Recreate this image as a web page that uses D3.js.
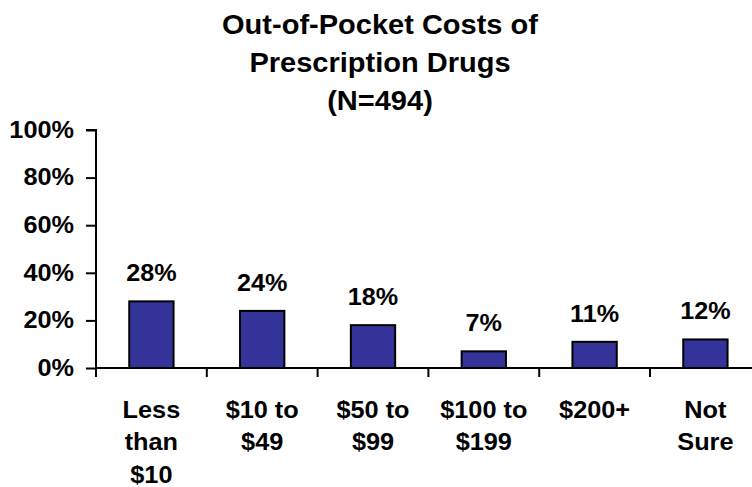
<!DOCTYPE html>
<html>
<head>
<meta charset="utf-8">
<script src="https://cdn.jsdelivr.net/npm/d3@7"></script>
<style>
  html, body { margin: 0; padding: 0; background: #fff; }
  svg text { font-family: "Liberation Sans", Arial, Helvetica, sans-serif; font-weight: bold; fill: #000; }
</style>
</head>
<body>
<svg id="chart" width="752" height="487"></svg>
<script>
// Out-of-pocket prescription drug cost brackets and share of respondents
const titleLines = ["Out-of-Pocket Costs of", "Prescription Drugs", "(N=494)"];
const categories = [
  ["Less", "than", "$10"],
  ["$10 to", "$49"],
  ["$50 to", "$99"],
  ["$100 to", "$199"],
  ["$200+"],
  ["Not", "Sure"]
];
const values = [28, 24, 18, 7, 11, 12];
const yTicks = [0, 20, 40, 60, 80, 100];

const svg = d3.select("#chart");
const margin = { left: 96, top: 130, bottom: 368 };
const bandW = 110.8;

// Widen glyphs horizontally about an anchor x (the lettering is set wide)
const widen = (ax, s) => `translate(${ax},0) scale(${s},1) translate(${-ax},0)`;

const x = d3.scaleBand()
  .domain(d3.range(categories.length))
  .range([margin.left, margin.left + bandW * categories.length])
  .paddingInner(0.6)
  .paddingOuter(0.3);

const y = d3.scaleLinear().domain([0, 100]).range([margin.bottom, margin.top]);

// Title
svg.append("g")
  .attr("transform", widen(380, 1.075))
  .selectAll("text")
  .data(titleLines)
  .join("text")
  .attr("x", 380)
  .attr("y", (d, i) => 34.5 + i * 38)
  .attr("text-anchor", "middle")
  .style("font-size", "27px")
  .text(d => d);

// Bars
svg.append("g").selectAll("rect")
  .data(values)
  .join("rect")
  .attr("x", (d, i) => x(i))
  .attr("width", x.bandwidth())
  .attr("y", d => y(d))
  .attr("height", d => y(0) - y(d))
  .attr("fill", "#333399")
  .attr("stroke", "#000")
  .attr("stroke-width", 2);

// Value labels
svg.append("g").selectAll("text")
  .data(values)
  .join("text")
  .attr("x", (d, i) => x(i) + x.bandwidth() / 2)
  .attr("y", d => y(d) - 20)
  .attr("text-anchor", "middle")
  .attr("transform", (d, i) => widen(x(i) + x.bandwidth() / 2, 1.05))
  .style("font-size", "24px")
  .text(d => d + "%");

// Y axis
const yAxis = d3.axisLeft(y)
  .tickValues(yTicks)
  .tickSize(10)
  .tickPadding(12)
  .tickFormat(d => d + "%");
const gy = svg.append("g")
  .attr("transform", `translate(${margin.left},0)`)
  .call(yAxis);
gy.select(".domain").attr("d", `M-10,${margin.top}H0V${margin.bottom + 9}`).attr("stroke-width", 2);
gy.selectAll(".tick line").attr("stroke-width", 2);
gy.selectAll(".tick text")
  .style("font-size", "23px")
  .attr("font-family", null)
  .attr("transform", widen(-22, 1.1));

// X axis: line along zero with ticks at category boundaries
const gx = svg.append("g");
gx.append("line")
  .attr("x1", margin.left).attr("x2", 752)
  .attr("y1", y(0)).attr("y2", y(0))
  .attr("stroke", "#000").attr("stroke-width", 2);
gx.selectAll("line.bound")
  .data(d3.range(1, categories.length))
  .join("line")
  .attr("class", "bound")
  .attr("x1", i => margin.left + i * bandW)
  .attr("x2", i => margin.left + i * bandW)
  .attr("y1", y(0)).attr("y2", y(0) + 9)
  .attr("stroke", "#000").attr("stroke-width", 2);

// Category labels, one tspan per line
const cat = svg.append("g").selectAll("text")
  .data(categories)
  .join("text")
  .attr("text-anchor", "middle")
  .attr("transform", (d, i) => widen(x(i) + x.bandwidth() / 2, 1.1))
  .style("font-size", "23px");
cat.selectAll("tspan")
  .data((d, i) => d.map(t => ({ t, i })))
  .join("tspan")
  .attr("x", d => x(d.i) + x.bandwidth() / 2)
  .attr("y", (d, j) => 418 + j * 32.5)
  .text(d => d.t);
</script>
</body>
</html>
